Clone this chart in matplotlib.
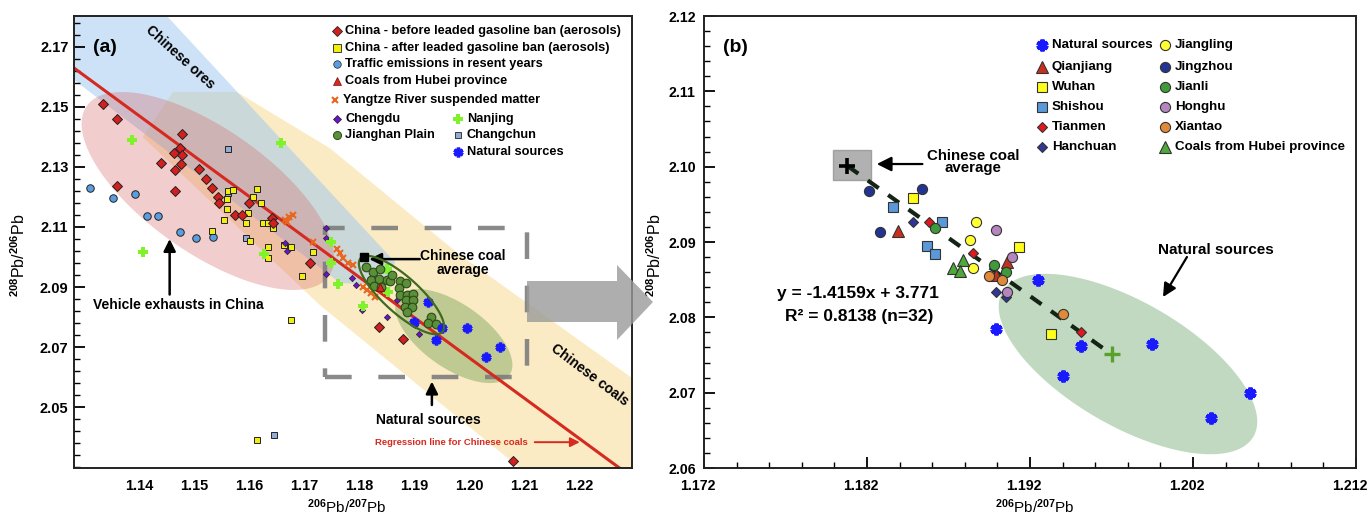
import numpy as np
import matplotlib
matplotlib.use('Agg')
import matplotlib.pyplot as plt
import matplotlib.transforms as mtransforms
from matplotlib.patches import Polygon, Rectangle
from matplotlib.ticker import FixedLocator, FormatStrFormatter

plt.rcParams['font.family'] = ['Liberation Sans', 'DejaVu Sans']
plt.rcParams['font.weight'] = 'bold'
plt.rcParams['mathtext.fontset'] = 'custom'
plt.rcParams['mathtext.rm'] = 'Liberation Sans:bold'
plt.rcParams['mathtext.default'] = 'rm'

# ---------------- panel (a) data ----------------
before_x = [1.1334, 1.1360, 1.1478, 1.1474, 1.1462, 1.1478, 1.1439, 1.1476, 1.1465, 1.1360,
            1.1465, 1.1508, 1.1521, 1.1532, 1.1543, 1.1545, 1.1574, 1.1587, 1.1600, 1.1641,
            1.1643, 1.1711, 1.1836, 1.1880, 1.2080]
before_y = [2.1510, 2.1459, 2.1410, 2.1364, 2.1348, 2.1339, 2.1312, 2.1310, 2.1290, 2.1238,
            2.1220, 2.1293, 2.1259, 2.1231, 2.1199, 2.1179, 2.1139, 2.1140, 2.1179, 2.1130,
            2.1112, 2.0979, 2.0767, 2.0727, 2.0321]
after_x = [1.1562, 1.1571, 1.1560, 1.1613, 1.1607, 1.1622, 1.1598, 1.1560, 1.1554, 1.1594,
           1.1625, 1.1634, 1.1643, 1.1532, 1.1602, 1.1634, 1.1634, 1.1676, 1.1663, 1.1715,
           1.1695, 1.1676, 1.1613]
after_y = [2.1221, 2.1223, 2.1193, 2.1227, 2.1201, 2.1181, 2.1146, 2.1159, 2.1123, 2.1114,
           2.1114, 2.1114, 2.1095, 2.1088, 2.1054, 2.1034, 2.0996, 2.1032, 2.1040, 2.1016,
           2.0937, 2.0790, 2.0390]
traffic_x = [1.1311, 1.1352, 1.1392, 1.1413, 1.1434, 1.1474, 1.1503, 1.1533]
traffic_y = [2.1229, 2.1198, 2.1210, 2.1137, 2.1137, 2.1082, 2.1062, 2.1066]
changchun_x = [1.1562, 1.1562, 1.1594, 1.1645]
changchun_y = [2.1359, 2.1212, 2.1063, 2.0407]
nanjing_x = [1.1386, 1.1657, 1.1406, 1.1626, 1.1748, 1.1748, 1.1762, 1.1807, 1.1851, 1.1852, 1.1891]
nanjing_y = [2.1390, 2.1379, 2.1018, 2.1011, 2.1051, 2.0979, 2.0910, 2.0837, 2.0959, 2.0883, 2.0840]
yangtze_x = [1.1665, 1.1672, 1.1679, 1.1668, 1.1716, 1.1759, 1.1765, 1.1771, 1.1780, 1.1789,
             1.1806, 1.1814, 1.1822, 1.1828]
yangtze_y = [2.1123, 2.1132, 2.1140, 2.1117, 2.1051, 2.1028, 2.1012, 2.0996, 2.0981, 2.0972,
             2.0900, 2.0890, 2.0879, 2.0867]
chengdu_x = [1.1665, 1.1668, 1.1740, 1.1739, 1.1739, 1.1786, 1.1794, 1.1804, 1.1850, 1.1869,
             1.1901, 1.1908]
chengdu_y = [2.1048, 2.1020, 2.1096, 2.1062, 2.0943, 2.0931, 2.0907, 2.0823, 2.0801, 2.0857,
             2.0773, 2.0743]
jianghan_x = [1.1812, 1.1824, 1.1837, 1.1821, 1.1836, 1.1850, 1.1856, 1.1826, 1.1840, 1.1874,
              1.1885, 1.1872, 1.1874, 1.1886, 1.1898, 1.1885, 1.1898, 1.1883, 1.1895, 1.1886,
              1.1930, 1.1925, 1.1939, 1.1859]
jianghan_y = [2.0966, 2.0951, 2.0959, 2.0923, 2.0926, 2.0923, 2.0920, 2.0903, 2.0901, 2.0921,
              2.0912, 2.0896, 2.0873, 2.0873, 2.0877, 2.0857, 2.0857, 2.0834, 2.0834, 2.0818,
              2.0801, 2.0779, 2.0777, 2.0940]
hubei_a_x = [1.1837]
hubei_a_y = [2.0901]

# natural sources (same samples in both panels)
natural_x = [1.1925, 1.1899, 1.1951, 1.1940, 1.1995, 1.2055, 1.2031]
natural_y = [2.0850, 2.0785, 2.0762, 2.0722, 2.0765, 2.0699, 2.0666]

coal_avg_x, coal_avg_y = 1.1808, 2.1001
reg_slope, reg_intercept = -1.343, 3.678

# ---------------- panel (b) data ----------------
qianjiang_x = [1.1839, 1.1906, 1.1899]
qianjiang_y = [2.0915, 2.0873, 2.0856]
wuhan_x = [1.1848, 1.1913, 1.1933]
wuhan_y = [2.0958, 2.0893, 2.0778]
shishou_x = [1.1836, 1.1866, 1.1857, 1.1862]
shishou_y = [2.0946, 2.0926, 2.0895, 2.0884]
tianmen_x = [1.1858, 1.1885, 1.1951]
tianmen_y = [2.0926, 2.0886, 2.0781]
hanchuan_x = [1.1848, 1.1899, 1.1905]
hanchuan_y = [2.0927, 2.0833, 2.0827]
jiangling_x = [1.1887, 1.1883, 1.1885]
jiangling_y = [2.0927, 2.0903, 2.0866]
jingzhou_x = [1.1821, 1.1854, 1.1828]
jingzhou_y = [2.0968, 2.0971, 2.0913]
jianli_x = [1.1862, 1.1898, 1.1905]
jianli_y = [2.0919, 2.0870, 2.0860]
honghu_x = [1.1899, 1.1909, 1.1906]
honghu_y = [2.0916, 2.0880, 2.0834]
xiantao_x = [1.1895, 1.1903, 1.1940]
xiantao_y = [2.0855, 2.0850, 2.0804]
hubei_b_x = [1.1873, 1.1879, 1.1877]
hubei_b_y = [2.0866, 2.0876, 2.0862]
nat_end_x, nat_end_y = 1.1970, 2.0751

eq_text = 'y = -1.4159x + 3.771'
r2_text = 'R² = 0.8138 (n=32)'


def ellipse(cx, cy, major, minor, n=200):
    t = np.linspace(0, 2 * np.pi, n)
    xs = cx + major[0] * np.cos(t) + minor[0] * np.sin(t)
    ys = cy + major[1] * np.cos(t) + minor[1] * np.sin(t)
    return np.column_stack([xs, ys])


def arrow(ax, tail, head, color='black', lw=1.8, ms=18):
    ax.annotate('', xy=head, xytext=tail,
                arrowprops=dict(arrowstyle='-|>', color=color, lw=lw,
                                mutation_scale=ms, shrinkA=0, shrinkB=0))


def legend_item(ax, fx, fy, tx, label, fs, **style):
    ax.plot([fx], [fy], transform=ax.transAxes, clip_on=False, ls='none', **style)
    ax.text(tx, fy, label, transform=ax.transAxes, fontsize=fs, va='center', ha='left')


fig = plt.figure(figsize=(13.7, 5.15), dpi=100)
ax_a = fig.add_axes([74 / 1370, 1 - 468 / 515, 558 / 1370, 452 / 515])
ax_b = fig.add_axes([704 / 1370, 1 - 468 / 515, 652 / 1370, 452 / 515])

# ================= panel (a) =================
ax = ax_a
xmin, xmax, ymin, ymax = 1.1281, 1.2296, 2.0297, 2.1803
ax.set_xlim(xmin, xmax)
ax.set_ylim(ymin, ymax)

yellow_band = [(1.1461, 2.155), (1.1577, 2.155), (1.1746, 2.1363), (1.1983, 2.1007),
               (1.2296, 2.0597), (1.2296, 2.0297), (1.2092, 2.0297), (1.1728, 2.0840),
               (1.1406, 2.1400)]
ax.add_patch(Polygon(yellow_band, closed=True, fc='#f7d98a', ec='none', alpha=0.5, zorder=0.5))
blue_band = [(1.1281, 2.1803), (1.1450, 2.1803), (1.1865, 2.0983), (1.1846, 2.0907),
             (1.1765, 2.0913), (1.1281, 2.1590)]
ax.add_patch(Polygon(blue_band, closed=True, fc='#9cc7ee', ec='none', alpha=0.5, zorder=0.6))
ax.add_patch(Polygon(ellipse(1.15245, 2.1220, (0.02204, -0.0283), (0.00647, 0.01693)),
                     closed=True, fc='#d9686a', ec='none', alpha=0.33, zorder=0.7))
ax.add_patch(Polygon(ellipse(1.19718, 2.07367, (0.01013, -0.0130), (0.00334, 0.00874)),
                     closed=True, fc='#6f9c4e', ec='none', alpha=0.42, zorder=0.8))
ax.add_patch(Polygon(ellipse(1.18767, 2.08733, (0.00743, -0.01227), (0.00219, 0.00446)),
                     closed=True, fc='none', ec='#3f6a1f', lw=1.6, zorder=3.5))

# dashed zoom box
ax.add_patch(Rectangle((1.1737, 2.0600), 1.2105 - 1.1737, 2.1097 - 2.0600, fc='none',
                       ec='#7d7d7d', lw=3.2, ls=(0, (6, 6)), alpha=0.9, zorder=2))

# regression line
xx = np.array([xmin, xmax])
ax.plot(xx, reg_slope * xx + reg_intercept, color='#d42a20', lw=2.2, zorder=2.5)

ek = dict(ls='none', markeredgecolor='#222222', markeredgewidth=0.7, zorder=3)
ax.plot(traffic_x, traffic_y, marker='o', ms=5.4, mfc='#5a9ee0', **ek)
ax.plot(changchun_x, changchun_y, marker='s', ms=4.6, mfc='#92acd6', **ek)
ax.plot(after_x, after_y, marker='s', ms=4.4, mfc='#f2ee10', **ek)
ax.plot(before_x, before_y, marker='D', ms=4.8, mfc='#d41f1f', **ek)
ax.plot(yangtze_x, yangtze_y, marker='x', ms=5, ls='none', color='#e8661e', mew=1.5, zorder=3)
ax.plot(chengdu_x, chengdu_y, marker='D', ms=3.2, mfc='#6a14c8', ls='none',
        markeredgecolor='#222222', markeredgewidth=0.5, zorder=3)
ax.plot(nanjing_x, nanjing_y, marker='P', ms=7, ls='none', color='#7ff22a', mew=0, zorder=3)
ax.plot(jianghan_x, jianghan_y, marker='o', ms=6.2, mfc='#5b8f3a', ls='none',
        markeredgecolor='#2d4a17', markeredgewidth=0.8, zorder=3)
ax.plot(hubei_a_x, hubei_a_y, marker='^', ms=6, mfc='#d42a20', ls='none',
        markeredgecolor='#7a1010', markeredgewidth=0.6, zorder=3.6)
ax.plot(natural_x, natural_y, marker=(6, 2, 0), ms=7, ls='none', color='#1a1aff', mew=2.5, zorder=3)
ax.plot([coal_avg_x], [coal_avg_y], marker='s', ms=6, color='black', ls='none', zorder=4)

ax.text(0.0556, 0.931, '(a)', transform=ax.transAxes, fontsize=14, ha='center', va='center')
ax.text(1.1474, 2.1667, 'Chinese ores', fontsize=10, rotation=-42, ha='center', va='center')
ax.text(1.1470, 2.0840, 'Vehicle exhausts in China', fontsize=10, ha='center', va='center')
arrow(ax, (1.1455, 2.0875), (1.1455, 2.1060))
ax.text(1.1988, 2.0980, 'Chinese coal\naverage', fontsize=10, ha='center', va='center',
        linespacing=0.95)
arrow(ax, (1.1910, 2.0993), (1.1818, 2.0993))
ax.text(1.1926, 2.0457, 'Natural sources', fontsize=10, ha='center', va='center')
arrow(ax, (1.1932, 2.0507), (1.1932, 2.0585))
ax.text(1.2219, 2.0607, 'Chinese coals', fontsize=10, rotation=-37, ha='center', va='center')
ax.text(1.1968, 2.0383, 'Regression line for Chinese coals', fontsize=6.8, color='#d42a20',
        ha='center', va='center')
arrow(ax, (1.2119, 2.0383), (1.2201, 2.0383), color='#d42a20', lw=1.4, ms=14)

# legend (a)
fs_a = 9.2
c1m, c1t, c2m, c2t = 0.4713, 0.4857, 0.6882, 0.7043
legend_item(ax, c1m, 0.9668, c1t, 'China - before leaded gasoline ban (aerosols)', fs_a,
            marker='D', ms=5, mfc='#d41f1f', mec='#222222', mew=0.6)
legend_item(ax, c1m, 0.9292, c1t, 'China - after leaded gasoline ban (aerosols)', fs_a,
            marker='s', ms=6, mfc='#f2ee10', mec='#222222', mew=0.6)
legend_item(ax, c1m, 0.8938, c1t, 'Traffic emissions in resent years', fs_a,
            marker='o', ms=5.4, mfc='#5a9ee0', mec='#222222', mew=0.5)
legend_item(ax, c1m, 0.8562, c1t, 'Coals from Hubei province', fs_a,
            marker='^', ms=6, mfc='#d42a20', mec='#7a1010', mew=0.5)
legend_item(ax, c1m - 0.003, 0.8142, c1t - 0.003, 'Yangtze River suspended matter', fs_a,
            marker='x', ms=5, color='#e8661e', mew=1.5)
legend_item(ax, c1m, 0.7721, c1t, 'Chengdu', fs_a,
            marker='D', ms=3.6, mfc='#6a14c8', mec='#222222', mew=0.5)
legend_item(ax, c1m, 0.7367, c1t, 'Jianghan Plain', fs_a,
            marker='o', ms=5.8, mfc='#5b8f3a', mec='#2d4a17', mew=0.7)
legend_item(ax, c2m, 0.7721, c2t, 'Nanjing', fs_a,
            marker='P', ms=7, color='#7ff22a', mew=0)
legend_item(ax, c2m, 0.7367, c2t, 'Changchun', fs_a,
            marker='s', ms=5, mfc='#92acd6', mec='#222222', mew=0.6)
legend_item(ax, c2m, 0.6991, c2t, 'Natural sources', fs_a,
            marker=(6, 2, 0), ms=7, color='#1a1aff', mew=2.5)

ax.yaxis.set_major_locator(FixedLocator([2.05, 2.07, 2.09, 2.11, 2.13, 2.15, 2.17]))
ax.yaxis.set_minor_locator(FixedLocator(np.arange(2.030, 2.1805, 0.004)))
ax.yaxis.set_major_formatter(FormatStrFormatter('%.2f'))
ax.xaxis.set_major_locator(FixedLocator(np.arange(1.14, 1.2305, 0.01)))
ax.xaxis.set_major_formatter(FormatStrFormatter('%.2f'))
ax.tick_params(axis='y', which='major', direction='in', length=8, width=1.3, labelsize=10.5, pad=4)
ax.tick_params(axis='y', which='minor', direction='in', length=4, width=1.0)
ax.tick_params(axis='x', which='major', direction='in', length=0, labelsize=10.5, pad=8)
ax.set_xlabel('$^{206}$Pb/$^{207}$Pb', fontsize=11)
ax.set_ylabel('$^{208}$Pb/$^{206}$Pb', fontsize=11.5)
ax.xaxis.set_label_coords(0.489, -0.066)
ax.yaxis.set_label_coords(-0.082, 0.47)

# ================= panel (b) =================
ax = ax_b
ax.set_xlim(1.172, 1.212)
ax.set_ylim(2.06, 2.12)

ax.add_patch(Polygon(ellipse(1.19801, 2.0738, (0.0077, -0.00962), (0.0019, 0.00713)),
                     closed=True, fc='#8dba8d', ec='none', alpha=0.55, zorder=0.5))
ax.add_patch(Rectangle((1.17991, 2.09823), 0.00234, 0.00398, fc='#a9a9a9', ec='#9a9a9a',
                       alpha=0.9, zorder=1))
ax.plot([coal_avg_x, nat_end_x], [coal_avg_y, nat_end_y], color='#142414', lw=3,
        ls=(0, (3.2, 2.8)), zorder=2)

mk = dict(ls='none', markeredgecolor='#333333', markeredgewidth=0.8, zorder=3)
ax.plot(qianjiang_x, qianjiang_y, marker='^', ms=8, mfc='#c8301e', **mk)
ax.plot(wuhan_x, wuhan_y, marker='s', ms=6.8, mfc='#ffff1a', **mk)
ax.plot(shishou_x, shishou_y, marker='s', ms=6.8, mfc='#5b98d8', **mk)
ax.plot(tianmen_x, tianmen_y, marker='D', ms=5.4, mfc='#e0191e', **mk)
ax.plot(hanchuan_x, hanchuan_y, marker='D', ms=5.4, mfc='#2f3796', **mk)
ax.plot(jiangling_x, jiangling_y, marker='o', ms=7.3, mfc='#ffff33', **mk)
ax.plot(jingzhou_x, jingzhou_y, marker='o', ms=7.3, mfc='#233392', **mk)
ax.plot(jianli_x, jianli_y, marker='o', ms=7.3, mfc='#3f9a3a', **mk)
ax.plot(honghu_x, honghu_y, marker='o', ms=7.3, mfc='#b585c0', **mk)
ax.plot(xiantao_x, xiantao_y, marker='o', ms=7.3, mfc='#e08938', **mk)
ax.plot(hubei_b_x, hubei_b_y, marker='^', ms=8, mfc='#4fa83c', **mk)
ax.plot(natural_x, natural_y, marker=(6, 2, 0), ms=8.5, ls='none', color='#1a1aff', mew=3,
        zorder=3)
ax.plot([coal_avg_x], [coal_avg_y], marker='+', ms=11, color='black', mew=2.6, ls='none', zorder=4)
ax.plot([nat_end_x], [nat_end_y], marker='+', ms=11, color='#5aa02c', mew=2.4, ls='none', zorder=4)

ax.text(0.0475, 0.931, '(b)', transform=ax.transAxes, fontsize=14, ha='center', va='center')
ax.text(1.1885, 2.1006, 'Chinese coal\naverage', fontsize=10.8, ha='center', va='center',
        linespacing=0.85)
arrow(ax, (1.1854, 2.10035), (1.1826, 2.10035), lw=1.6, ms=22)
ax.text(1.18145, 2.08323, eq_text, fontsize=12.5, ha='center', va='center')
ax.text(1.18150, 2.08017, r2_text, fontsize=12.5, ha='center', va='center')
ax.text(1.2034, 2.0889, 'Natural sources', fontsize=11, ha='center', va='center')
arrow(ax, (1.20163, 2.08801), (1.20016, 2.0827), lw=1.6, ms=20)

fs_b = 9.6
b1m, b1t, b2m, b2t = 0.5184, 0.5337, 0.7071, 0.7224
rows = [0.9358, 0.8872, 0.8429, 0.7987, 0.7544, 0.7102]
lk = dict(mec='#333333', mew=0.8)
legend_item(ax, b1m, rows[0], b1t, 'Natural sources', fs_b, marker=(6, 2, 0), ms=8.5,
            color='#1a1aff', mew=3)
legend_item(ax, b1m, rows[1], b1t, 'Qianjiang', fs_b, marker='^', ms=8, mfc='#c8301e', **lk)
legend_item(ax, b1m, rows[2], b1t, 'Wuhan', fs_b, marker='s', ms=6.8, mfc='#ffff1a', **lk)
legend_item(ax, b1m, rows[3], b1t, 'Shishou', fs_b, marker='s', ms=6.8, mfc='#5b98d8', **lk)
legend_item(ax, b1m, rows[4], b1t, 'Tianmen', fs_b, marker='D', ms=5.4, mfc='#e0191e', **lk)
legend_item(ax, b1m, rows[5], b1t, 'Hanchuan', fs_b, marker='D', ms=5.4, mfc='#2f3796', **lk)
legend_item(ax, b2m, rows[0], b2t, 'Jiangling', fs_b, marker='o', ms=7.3, mfc='#ffff33', **lk)
legend_item(ax, b2m, rows[1], b2t, 'Jingzhou', fs_b, marker='o', ms=7.3, mfc='#233392', **lk)
legend_item(ax, b2m, rows[2], b2t, 'Jianli', fs_b, marker='o', ms=7.3, mfc='#3f9a3a', **lk)
legend_item(ax, b2m, rows[3], b2t, 'Honghu', fs_b, marker='o', ms=7.3, mfc='#b585c0', **lk)
legend_item(ax, b2m, rows[4], b2t, 'Xiantao', fs_b, marker='o', ms=7.3, mfc='#e08938', **lk)
legend_item(ax, b2m, rows[5], b2t, 'Coals from Hubei province', fs_b, marker='^', ms=8,
            mfc='#4fa83c', **lk)

ax.xaxis.set_major_locator(FixedLocator([1.172, 1.182, 1.192, 1.202, 1.212]))
ax.xaxis.set_minor_locator(FixedLocator(np.arange(1.172, 1.2125, 0.002)))
ax.yaxis.set_major_locator(FixedLocator(np.arange(2.06, 2.1205, 0.01)))
ax.yaxis.set_minor_locator(FixedLocator(np.arange(2.06, 2.1205, 0.002)))
ax.xaxis.set_major_formatter(FormatStrFormatter('%.3f'))
ax.yaxis.set_major_formatter(FormatStrFormatter('%.2f'))
ax.tick_params(which='major', direction='in', length=8, width=1.3, labelsize=10.2)
ax.tick_params(which='minor', direction='in', length=4.5, width=1.0)
ax.tick_params(axis='x', pad=8)
ax.tick_params(axis='y', pad=6)
ax.set_xlabel('$^{206}$Pb/$^{207}$Pb', fontsize=11)
ax.set_ylabel('$^{208}$Pb/$^{206}$Pb', fontsize=11.5)
ax.xaxis.set_label_coords(0.508, -0.066)
ax.yaxis.set_label_coords(-0.062, 0.47)
# the reference sets its x tick labels a few pixels left of the ticks
shift = mtransforms.ScaledTranslation(-6 / 100, 0, fig.dpi_scale_trans)
for lbl in ax.get_xticklabels():
    lbl.set_transform(lbl.get_transform() + shift)

for a in (ax_a, ax_b):
    for s in a.spines.values():
        s.set_linewidth(1.4)
        s.set_color('#222222')

# big grey arrow from (a) to (b), in figure pixels
arrow_px = [(527, 281), (617, 281), (617, 265), (653, 302), (617, 340), (617, 322), (527, 322)]
grey_arrow = Polygon([(x / 1370, 1 - y / 515) for x, y in arrow_px], closed=True,
                     transform=fig.transFigure, fc='#9a9a9a', ec='none', alpha=0.8, zorder=10)
fig.add_artist(grey_arrow)

fig.savefig('out.png', dpi=100)
